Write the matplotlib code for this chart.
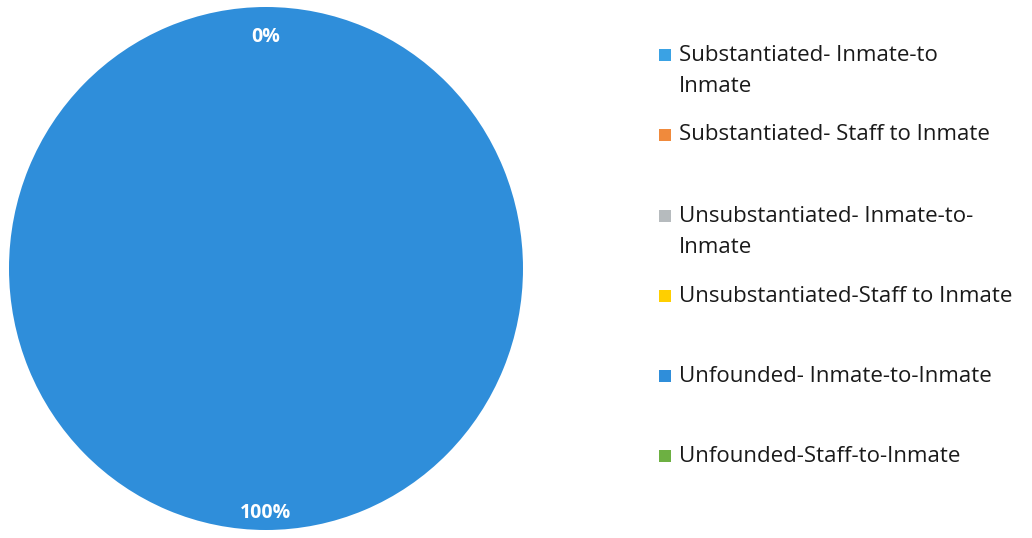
import matplotlib
matplotlib.use("agg")
import matplotlib.pyplot as plt
from matplotlib.patches import Rectangle

plt.rcParams['font.family'] = ['Open Sans', 'DejaVu Sans']

# data
categories = [
    "Substantiated- Inmate-to\nInmate",
    "Substantiated- Staff to Inmate",
    "Unsubstantiated- Inmate-to-\nInmate",
    "Unsubstantiated-Staff to Inmate",
    "Unfounded- Inmate-to-Inmate",
    "Unfounded-Staff-to-Inmate",
]
counts = [0, 0, 0, 0, 1, 0]
colors = ["#3AA2E4", "#F08A3C", "#B6BBBE", "#FFCF00", "#2F8EDA", "#6DB042"]
shown_labels = [0, 4]   # only these percentage labels are visible in the original

W, H = 1032.0, 538.0
fig = plt.figure(figsize=(10.32, 5.38), dpi=100)
ax = fig.add_axes([9 / W, 8 / H, 514 / W, 523 / H])

wedges, texts, autotexts = ax.pie(counts, colors=colors, startangle=90,
                                  counterclock=False, radius=1.0,
                                  autopct=lambda p: "%.0f%%" % p,
                                  pctdistance=0.91,
                                  wedgeprops=dict(linewidth=0))
for i, t in enumerate(autotexts):
    if i in shown_labels:
        t.set_color("white")
        t.set_fontweight("bold")
        t.set_fontsize(14)
        x, y = t.get_position()
        t.set_position((x, y - 0.024))
    else:
        t.set_text("")
ax.set_xlim(-1, 1)
ax.set_ylim(-1, 1)
ax.set_aspect("auto")

# legend, placed by hand to keep the uneven spacing
leg_y = [55, 135, 216, 296, 376, 456]   # pixel rows of first text line
for i, (lab, col) in enumerate(zip(categories, colors)):
    y = leg_y[i]
    fig.patches.append(Rectangle((659 / W, 1 - (y + 6) / H), 12 / W, 12 / H,
                                 transform=fig.transFigure, facecolor=col,
                                 edgecolor="none"))
    fig.text(679 / W, 1 - y / H, lab, fontsize=16, color="#1a1a1a",
             va="center", ha="left", linespacing=1.6)

# multi-line labels are centred on their block; shift them so the first line sits on leg_y
for t in fig.texts:
    if "\n" in t.get_text():
        x, y = t.get_position()
        t.set_position((x, y - 16 / H))

plt.savefig("out.png", dpi=100)
plt.close(fig)
